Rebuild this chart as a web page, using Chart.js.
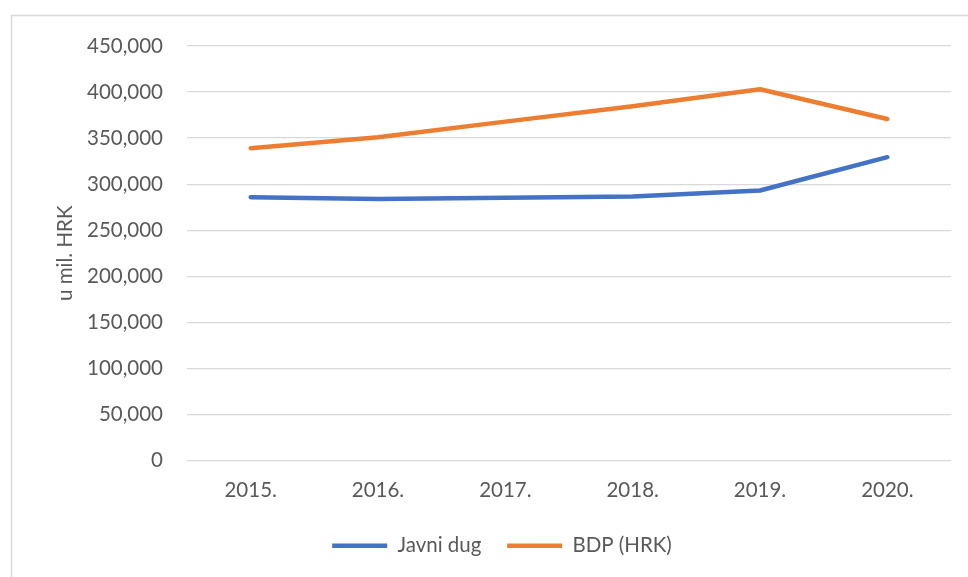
<!DOCTYPE html>
<html>
<head>
<meta charset="utf-8">
<script src="https://cdn.jsdelivr.net/npm/chart.js@4"></script>
<style>
  html, body { margin: 0; padding: 0; background: #ffffff; }
  #wrap { position: absolute; left: 0; top: 0; width: 968px; height: 577px; }
</style>
</head>
<body>
<div id="wrap"><canvas id="c" width="968" height="577"></canvas></div>
<script>
const categories = ['2015.', '2016.', '2017.', '2018.', '2019.', '2020.'];
const javniDug = [285900, 283800, 285200, 286600, 293100, 329300];
const bdp = [339100, 351000, 367900, 384600, 403000, 370800];
const seriesNames = ['Javni dug', 'BDP (HRK)'];
const yTitle = 'u mil. HRK';
const yMin = 0, yMax = 450000, yStep = 50000;

const FONT = 'Lato, "Open Sans", sans-serif';
const TEXT = '#595959';

const borderPlugin = {
  id: 'outerBorder',
  beforeDraw(chart) {
    const ctx = chart.ctx;
    ctx.save();
    ctx.strokeStyle = '#d9d9d9';
    ctx.lineWidth = 1.5;
    ctx.strokeRect(11.5, 15.5, chart.width + 20, chart.height + 20);
    ctx.restore();
  }
};

new Chart(document.getElementById('c'), {
  type: 'line',
  data: {
    labels: categories,
    datasets: [
      { label: seriesNames[0], data: javniDug, borderColor: '#4472C4', backgroundColor: '#4472C4',
        borderWidth: 4.5, pointRadius: 0, pointHoverRadius: 0, tension: 0,
        borderCapStyle: 'round', borderJoinStyle: 'round', pointStyle: 'line' },
      { label: seriesNames[1], data: bdp, borderColor: '#ED7D31', backgroundColor: '#ED7D31',
        borderWidth: 4.5, pointRadius: 0, pointHoverRadius: 0, tension: 0,
        borderCapStyle: 'round', borderJoinStyle: 'round', pointStyle: 'line' }
    ]
  },
  options: {
    responsive: false,
    animation: false,
    events: [],
    layout: { padding: { left: 53, right: 17, top: 46, bottom: 11 } },
    plugins: {
      legend: {
        position: 'bottom',
        labels: {
          usePointStyle: true,
          pointStyleWidth: 55,
          padding: 10,
          color: TEXT,
          font: { family: FONT, size: 20.5 },
          generateLabels(chart) {
            const items = Chart.defaults.plugins.legend.labels.generateLabels(chart);
            items.forEach((it, i) => { if (i < items.length - 1) it.text = it.text + '   '; });
            return items;
          }
        }
      },
      tooltip: { enabled: false }
    },
    scales: {
      x: {
        offset: true,
        grid: { display: false, drawTicks: false },
        border: { display: false },
        ticks: { color: TEXT, font: { family: FONT, size: 20.5 }, padding: 18, maxRotation: 0 },
        afterFit(scale) { scale.height = 65; }
      },
      y: {
        min: yMin, max: yMax,
        grid: { color: '#d9d9d9', lineWidth: 1.3, drawTicks: false },
        border: { display: false },
        ticks: {
          stepSize: yStep, color: TEXT, padding: 24,
          font: { family: FONT, size: 20.5 },
          callback: (v) => Number(v).toLocaleString('en-US')
        },
        title: { display: true, text: yTitle, color: TEXT, font: { family: FONT, size: 20.5 }, padding: { top: 0, bottom: 0 } },
        afterFit(scale) { scale.width = 134; }
      }
    }
  },
  plugins: [borderPlugin]
});
</script>
</body>
</html>
